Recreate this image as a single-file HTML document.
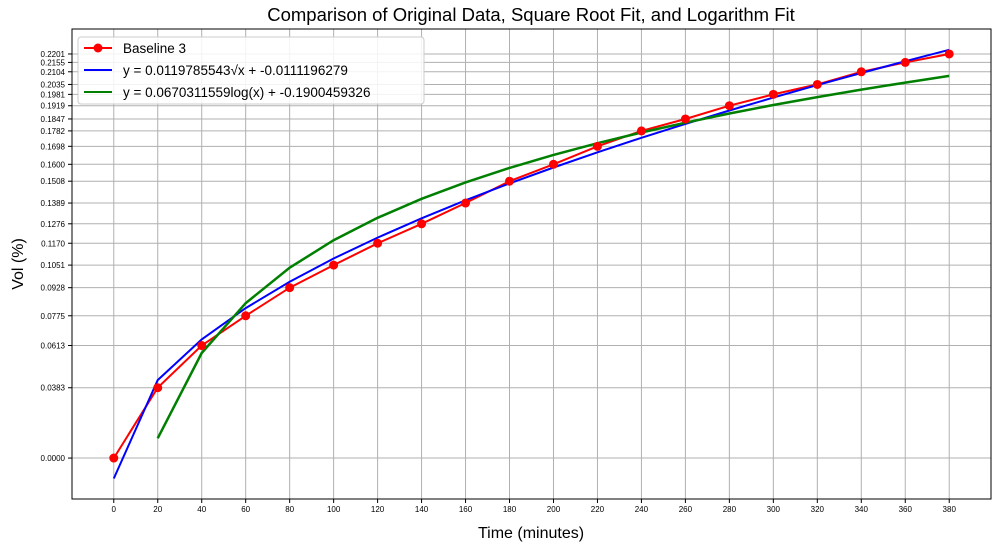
<!DOCTYPE html>
<html><head><meta charset="utf-8"><style>
body{margin:0;background:#fff;}
svg{display:block;font-family:"Liberation Sans","DejaVu Sans",sans-serif;}
</style></head><body>
<svg id="chart" width="1000" height="546" viewBox="0 0 1000 546" xmlns="http://www.w3.org/2000/svg">
<rect width="1000" height="546" fill="#fff"/>
<text x="531" y="21" font-size="18.5" text-anchor="middle" fill="#000">Comparison of Original Data, Square Root Fit, and Logarithm Fit</text>
<g id="grid"></g>
<g id="xticks"></g>
<g id="yticks"></g>
<g id="series"></g>
<rect x="72" y="29" width="919" height="470" fill="none" stroke="#000" stroke-width="1"/>
<text x="531" y="538" font-size="16" text-anchor="middle">Time (minutes)</text>
<text transform="translate(23,264) rotate(-90)" font-size="16" text-anchor="middle">Vol (%)</text>
<g>
<rect x="78" y="37" width="346" height="67" fill="#fff" fill-opacity="0.85" stroke="#ccc" rx="3"/>
<g><line x1="84" y1="48" x2="112" y2="48" stroke="#ff0000" stroke-width="2"/><circle cx="98" cy="48" r="4.5" fill="#ff0000"/><text x="123" y="53" font-size="13.5">Baseline 3</text></g>
<g><line x1="84" y1="70" x2="112" y2="70" stroke="#0000ff" stroke-width="2"/><text x="123" y="75" font-size="13.5">y = 0.0119785543√x + -0.0111196279</text></g>
<g><line x1="84" y1="92" x2="112" y2="92" stroke="#008000" stroke-width="2"/><text x="123" y="97" font-size="13.5">y = 0.0670311559log(x) + -0.1900459326</text></g>
</g>
</svg>
<script>
const xValues=[0,20,40,60,80,100,120,140,160,180,200,220,240,260,280,300,320,340,360,380];
const baseline=[0.0000,0.0383,0.0613,0.0775,0.0928,0.1051,0.1170,0.1276,0.1389,0.1508,0.1600,0.1698,0.1782,0.1847,0.1919,0.1981,0.2035,0.2104,0.2155,0.2201];
const sqrtFit=[-0.01112,0.04245,0.06464,0.08166,0.09602,0.10867,0.12010,0.13061,0.14040,0.14959,0.15828,0.16655,0.17445,0.18203,0.18932,0.19635,0.20316,0.20975,0.21615,0.22238];
const logX=[20,40,60,80,100,120,140,160,180,200,220,240,260,280,300,320,340,360,380];
const logFit=[0.01076,0.05722,0.08440,0.10368,0.11864,0.13086,0.14119,0.15015,0.15804,0.16510,0.17149,0.17732,0.18269,0.18766,0.19228,0.19661,0.20067,0.20450,0.20813];
const yTickLabels=["0.0000","0.0383","0.0613","0.0775","0.0928","0.1051","0.1170","0.1276","0.1389","0.1508","0.1600","0.1698","0.1782","0.1847","0.1919","0.1981","0.2035","0.2104","0.2155","0.2201"];

const NS="http://www.w3.org/2000/svg";
const L=72,R=991,T=29,B=499;
const xMin=-19,xMax=399,yMin=-0.0223,yMax=0.2337;
const xs=v=>L+(v-xMin)/(xMax-xMin)*(R-L);
const ys=v=>B-(v-yMin)/(yMax-yMin)*(B-T);
function mk(tag,attrs,parent){const e=document.createElementNS(NS,tag);for(const k in attrs)e.setAttribute(k,attrs[k]);parent.appendChild(e);return e;}
const grid=document.getElementById('grid'),xg=document.getElementById('xticks'),yg=document.getElementById('yticks'),sg=document.getElementById('series');
xValues.forEach(v=>{
  const x=xs(v);
  const gl=mk('line',{x1:x,x2:x,y1:T,y2:B,stroke:'#b0b0b0','stroke-width':1},grid);
  
  
  mk('line',{x1:x,x2:x,y1:B,y2:B+4,stroke:'#000'},xg);
  const t=mk('text',{x:x,y:B+13,'font-size':8,'text-anchor':'middle'},xg);
  t.textContent=v;
  
  
});
yTickLabels.forEach(s=>{
  const y=ys(parseFloat(s));
  const gl=mk('line',{x1:L,x2:R,y1:y,y2:y,stroke:'#b0b0b0','stroke-width':1},grid);
  
  
  mk('line',{x1:L-4,x2:L,y1:y,y2:y,stroke:'#000'},yg);
  const t=mk('text',{x:L-7,y:y+3,'font-size':8,'text-anchor':'end'},yg);
  t.textContent=s;
  
  
});
function pts(xa,ya){return xa.map((x,i)=>xs(x).toFixed(1)+','+ys(ya[i]).toFixed(1)).join(' ');}
const lb=mk('polyline',{points:pts(xValues,baseline),fill:'none',stroke:'#ff0000','stroke-width':2},sg);


const ls=mk('polyline',{points:pts(xValues,sqrtFit),fill:'none',stroke:'#0000ff','stroke-width':2},sg);


const ll=mk('polyline',{points:pts(logX,logFit),fill:'none',stroke:'#008000','stroke-width':2.5},sg);


xValues.forEach((x,i)=>{
  const c=mk('circle',{cx:xs(x),cy:ys(baseline[i]),r:4.5,fill:'#ff0000'},sg);
  
  
});
</script>
</body></html>
